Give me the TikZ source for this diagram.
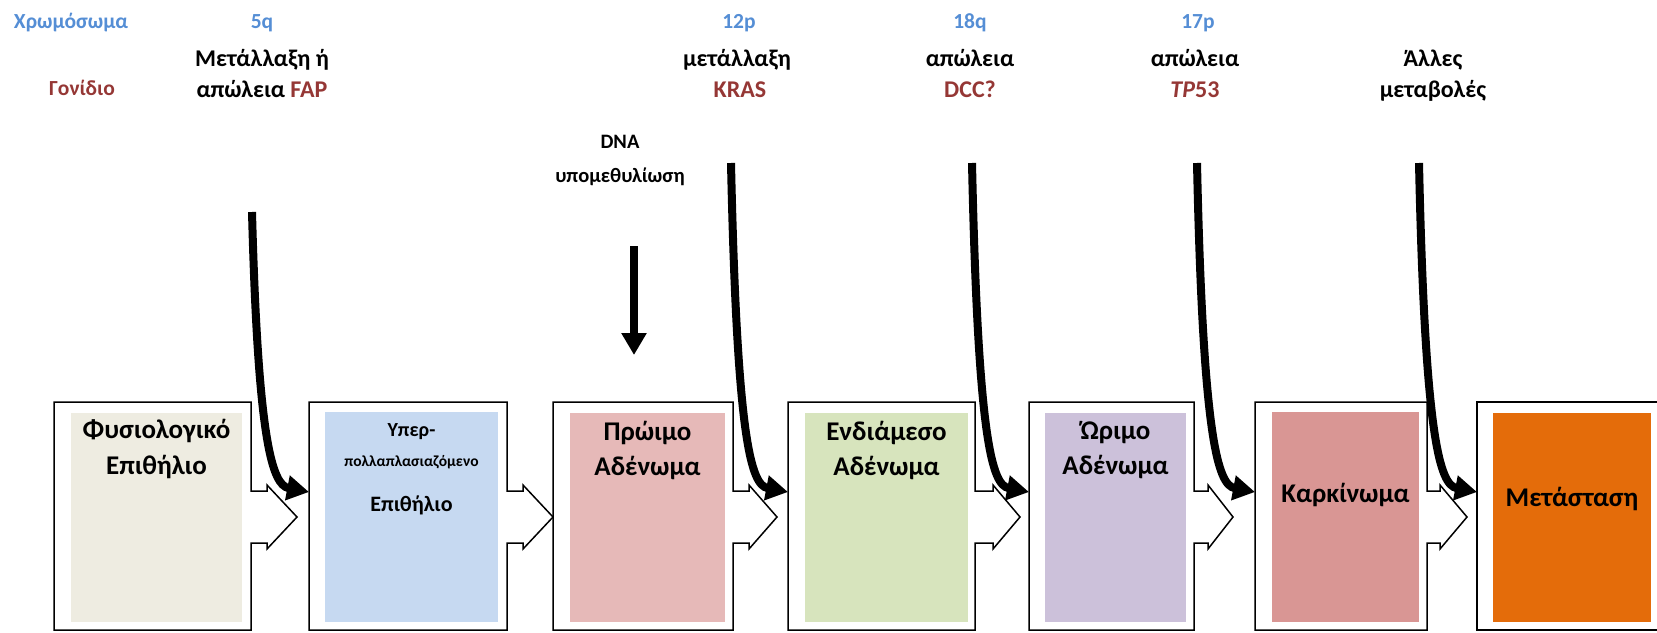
\documentclass[tikz,border=0pt]{standalone}
\usepackage{fontspec}
\setmainfont{Carlito}
\usepackage{xcolor}
\usetikzlibrary{arrows.meta,positioning}

\definecolor{chromblue}{HTML}{558ED5}
\definecolor{genered}{HTML}{953735}
\definecolor{normalc}{HTML}{EEECE1}
\definecolor{hyperc}{HTML}{C6D9F1}
\definecolor{earlyc}{HTML}{E6B9B8}
\definecolor{midc}{HTML}{D7E4BD}
\definecolor{latec}{HTML}{CCC1DA}
\definecolor{carcc}{HTML}{D99694}
\definecolor{metac}{HTML}{E46C0A}

\begin{document}
\begin{tikzpicture}[x=1pt, y=-1pt,
  every node/.style={inner sep=0pt, anchor=base, font=\bfseries\fontsize{24}{29}\selectfont},
  chrom/.style={text=chromblue, font=\bfseries\fontsize{21.5}{25}\selectfont},
  gene/.style={text=genered},
  stagetext/.style={font=\bfseries\fontsize{27}{32}\selectfont},
  small/.style={font=\bfseries\fontsize{20.5}{24}\selectfont},
  frame/.style={draw=black, line width=1.5pt, fill=white},
  panel/.style={anchor=north west, inner sep=0pt, draw=none},
  hit/.style={line width=8pt, -{Triangle[length=22pt, width=24pt]}}]
				\clip (0,0) rectangle (1657,632);
				
				% stage frames with arrow notch
				\draw[frame] (54,402) -- (251,402) -- (251,491) -- (267,491) -- (267,485) -- (297,517) -- (267,549) -- (267,543) -- (251,543) -- (251,630) -- (54,630) -- cycle;
				\draw[frame] (309,402) -- (507,402) -- (507,491) -- (523,491) -- (523,485) -- (553,517) -- (523,549) -- (523,543) -- (507,543) -- (507,630) -- (309,630) -- cycle;
				\draw[frame] (553,402) -- (733,402) -- (733,491) -- (749,491) -- (749,485) -- (777,517) -- (749,549) -- (749,543) -- (733,543) -- (733,630) -- (553,630) -- cycle;
				\draw[frame] (788,402) -- (975,402) -- (975,491) -- (993,491) -- (993,485) -- (1020,517) -- (993,549) -- (993,543) -- (975,543) -- (975,630) -- (788,630) -- cycle;
				\draw[frame] (1029,402) -- (1194,402) -- (1194,491) -- (1208,491) -- (1208,485) -- (1233,517) -- (1208,549) -- (1208,543) -- (1194,543) -- (1194,630) -- (1029,630) -- cycle;
				\draw[frame] (1255,402) -- (1427,402) -- (1427,491) -- (1440,491) -- (1440,485) -- (1467,517) -- (1440,549) -- (1440,543) -- (1427,543) -- (1427,630) -- (1255,630) -- cycle;
				\draw[frame] (1477,402) rectangle (1680,630);
				
				% coloured panels
				\node[panel, fill=normalc, minimum width=171, minimum height=209] (normal) at (71,413) {};
				\node[panel, fill=hyperc, minimum width=173, minimum height=210] (hyper) at (325,412) {};
				\node[panel, fill=earlyc, minimum width=155, minimum height=209] (early) at (570,413) {};
				\node[panel, fill=midc, minimum width=163, minimum height=209] (inter) at (805,413) {};
				\node[panel, fill=latec, minimum width=141, minimum height=209] (late) at (1045,413) {};
				\node[panel, fill=carcc, minimum width=147, minimum height=210] (carc) at (1272,412) {};
				\node[panel, fill=metac, minimum width=158, minimum height=209] (meta) at (1493,413) {};
				
				\node[stagetext] (normal1) at (156.5,438) {Φυσιολογικό};
				\node[stagetext] (normal2) at (156.5,474) {Επιθήλιο};
				\node[font=\bfseries\fontsize{20}{24}\selectfont] (hyper1) at (411.5,436) {Υπερ-};
				\node[font=\bfseries\fontsize{15.5}{19}\selectfont] (hyper2) at (411.5,466) {πολλαπλασιαζόμενο};
				\node[font=\bfseries\fontsize{22}{26}\selectfont] (hyper3) at (411.5,511) {Επιθήλιο};
				\node[stagetext] (early1) at (647.5,440) {Πρώιμο};
				\node[stagetext] (early2) at (647.5,475) {Αδένωμα};
				\node[stagetext] (inter1) at (886.5,440) {Ενδιάμεσο};
				\node[stagetext] (inter2) at (886.5,475) {Αδένωμα};
				\node[stagetext] (late1) at (1115.5,439) {Ώριμο};
				\node[stagetext] (late2) at (1115.5,474) {Αδένωμα};
				\node[stagetext] (carc1) at (1345.5,502) {Καρκίνωμα};
				\node[stagetext] (meta1) at (1572,506) {Μετάσταση};
				
				% top labels
				\node[chrom] (chr) at (71,28) {Χρωμόσωμα};
				\node[chrom, text=genered] (gen) at (82,95) {Γονίδιο};
				\node[chrom] (q5) at (262,28) {5q};
				\node (fap1) at (262,66) {Μετάλλαξη ή};
				\node (fap2) at (262,97) {απώλεια \textcolor{genered}{FAP}};
				\node[chrom] (p12) at (739,28) {12p};
				\node (kras1) at (737,66) {μετάλλαξη};
				\node[gene] (kras2) at (740,97) {KRAS};
				\node[chrom] (q18) at (970,28) {18q};
				\node (dcc1) at (970,66) {απώλεια};
				\node[gene] (dcc2) at (970,97) {DCC?};
				\node[chrom] (p17) at (1198,28) {17p};
				\node (tp1) at (1195,66) {απώλεια};
				\node[gene] (tp2) at (1195,97) {\textit{TP}53};
				\node (other1) at (1433,66) {Άλλες};
				\node (other2) at (1433,97) {μεταβολές};
				\node[small] (dna1) at (620,148) {DNA};
				\node[small] (dna2) at (620,182) {υπομεθυλίωση};
				
				\coordinate (m1) at (252,212);
				\coordinate (m2) at (731,163);
				\coordinate (m3) at (972,163);
				\coordinate (m4) at (1197,163);
				\coordinate (m5) at (1419,163);
				\coordinate (dnatop) at (634,246);
				\coordinate (dnatip) at (634,355);
				\coordinate (in2) at (309,492);
				\coordinate (in4) at (788,492);
				\coordinate (in5) at (1029,492);
				\coordinate (in6) at (1255,492);
				\coordinate (in7) at (1477,492);
				
				\draw[hit] (m1) .. controls +(6,228) and +(-37,-7) .. (in2);
				\draw[hit] (m2) .. controls +(6,277) and +(-37,-7) .. (in4);
				\draw[hit] (m3) .. controls +(6,277) and +(-37,-7) .. (in5);
				\draw[hit] (m4) .. controls +(6,277) and +(-37,-7) .. (in6);
				\draw[hit] (m5) .. controls +(6,277) and +(-37,-7) .. (in7);
				\draw[hit] (dnatop) -- (dnatip);
			\end{tikzpicture}
\end{document}
